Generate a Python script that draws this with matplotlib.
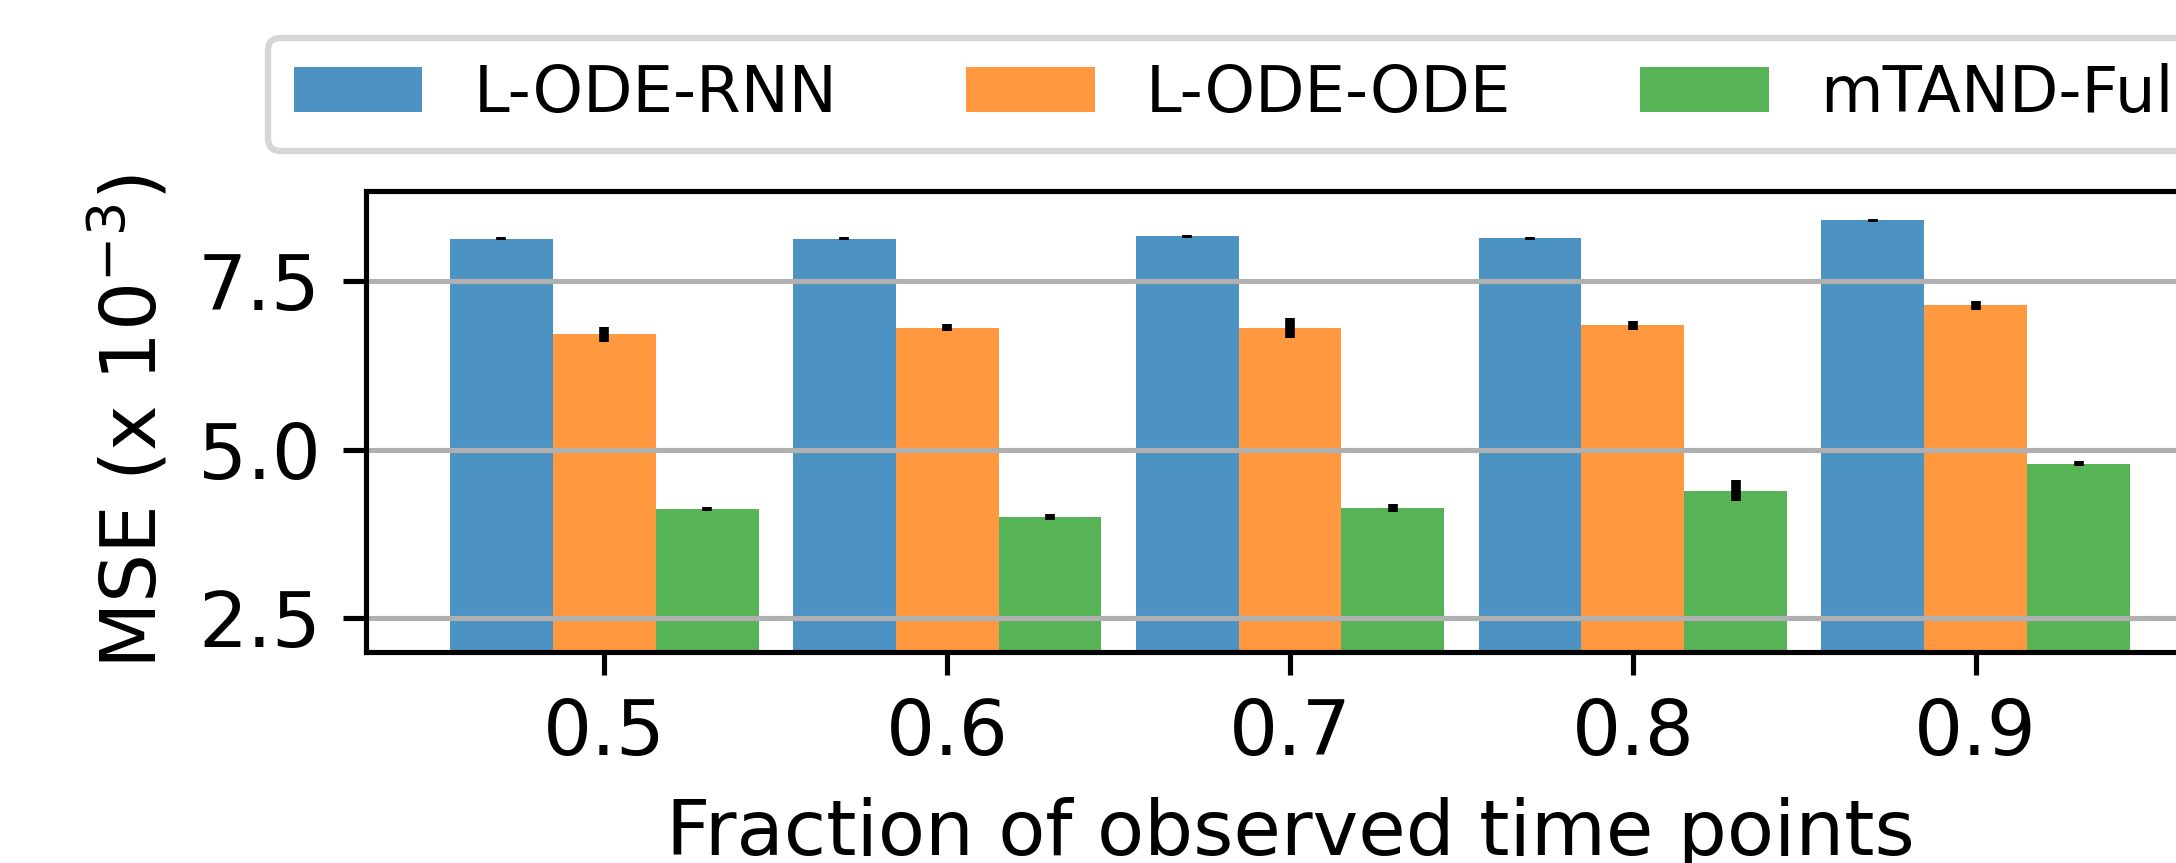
import matplotlib.pyplot as plt
import numpy as np


# Values (MSE x 1e-3)
fractions = [0.5, 0.6, 0.7, 0.8, 0.9]
tick_labels = ['0.5', '0.6', '0.7', '0.8', '0.9']
models = ['L-ODE-RNN', 'L-ODE-ODE', 'mTAND-Full']

lode_rnn = [8.125, 8.125, 8.16, 8.13, 8.40]
lode_rnn_err = [0.02, 0.02, 0.02, 0.02, 0.02]
lode_ode = [6.71, 6.81, 6.80, 6.84, 7.14]
lode_ode_err = [0.11, 0.05, 0.148, 0.07, 0.07]
mtand_full = [4.126, 4.00, 4.14, 4.39, 4.79]
mtand_full_err = [0.03, 0.05, 0.06, 0.155, 0.037]

colors = ['tab:blue', 'tab:orange', 'tab:green']

DPI = 463
W, H = 2176, 863

fig = plt.figure(figsize=(W / DPI, H / DPI), dpi=DPI)
# axes runs past the right edge on purpose (the reference is clipped there)
ax = fig.add_axes([366 / W, 211 / H, 1848 / W, 461.5 / H])

x = np.array(fractions)
bar_w = 0.03
series = [(lode_rnn, lode_rnn_err), (lode_ode, lode_ode_err),
          (mtand_full, mtand_full_err)]
for i, (vals, errs) in enumerate(series):
    ax.bar(x + (i - 1) * bar_w, vals, width=bar_w, yerr=errs,
           color=colors[i], alpha=0.8, label=models[i],
           error_kw=dict(ecolor='k', capsize=0))

ax.set_xticks(fractions)
ax.set_xticklabels(tick_labels, fontsize=12)
ax.set_yticks([2.5, 5.0, 7.5])
ax.tick_params(axis='y', labelsize=12)
ax.set_ylim(bottom=2)
ax.yaxis.grid(True)

ax.set_xlabel('Fraction of observed time points', fontsize=12)
ax.set_ylabel('MSE (x $10^{-3}$)', fontsize=12)

ax.legend(loc='upper left', bbox_to_anchor=(268 / W, 1 - 37.5 / H),
          bbox_transform=fig.transFigure, borderaxespad=0, ncol=3,
          fontsize=10)

fig.savefig('out.png', dpi=DPI)
